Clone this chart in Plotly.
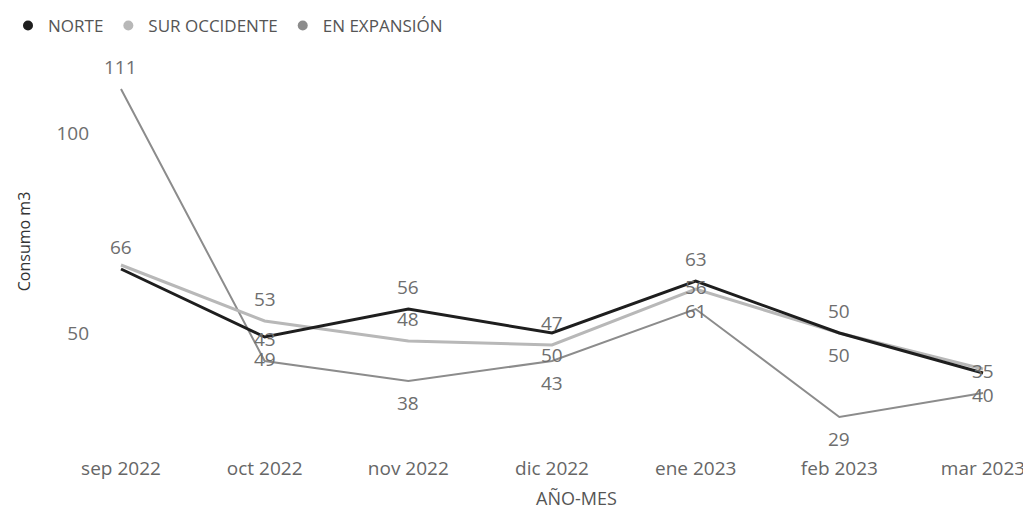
import plotly.graph_objects as go

months = ["sep 2022", "oct 2022", "nov 2022", "dic 2022", "ene 2023", "feb 2023", "mar 2023"]

norte = [66, 49, 56, 50, 63, 50, 40]
sur_occidente = [67, 53, 48, 47, 61, 50, 41]
en_expansion = [111, 43, 38, 43, 56, 29, 35]

norte_labels = ["66", "49", "56", "50", "63", "50", "40"]
sur_labels = ["", "53", "48", "47", "61", "50", ""]
exp_labels = ["111", "43", "38", "43", "56", "29", "35"]

# +1 = label above the point, -1 = label below
norte_side = [1, -1, 1, -1, 1, -1, -1]
sur_side = [1, 1, 1, 1, -1, 1, 1]
exp_side = [1, 1, -1, -1, 1, -1, 1]

series = [
    ("NORTE", norte, norte_labels, norte_side, "#1e1e1e", 3),
    ("SUR OCCIDENTE", sur_occidente, sur_labels, sur_side, "#b8b8b8", 3),
    ("EN EXPANSIÓN", en_expansion, exp_labels, exp_side, "#8c8c8c", 2),
]

FONT = "Open Sans"
fig = go.Figure()

for name, vals, labels, side, color, width in [series[2], series[1], series[0]]:
    fig.add_trace(go.Scatter(
        x=months, y=vals, mode="lines", name=name,
        line=dict(color=color, width=width),
        showlegend=False, cliponaxis=False,
    ))

for name, vals, labels, side, color, width in series:
    fig.add_trace(go.Scatter(
        x=[None], y=[None], mode="markers", name=name,
        marker=dict(color=color, size=10, symbol="circle"),
        showlegend=True,
    ))

annotations = []
for name, vals, labels, side, color, width in series:
    for m, v, t, s in zip(months, vals, labels, side):
        if not t:
            continue
        annotations.append(dict(
            x=m, y=v, xref="x", yref="y", text=t, showarrow=False,
            yshift=22 * s, font=dict(family=FONT, size=19, color="#6e6e6e"),
        ))

annotations.append(dict(
    text="Consumo m3", textangle=-90, showarrow=False,
    xref="paper", yref="paper", x=-0.08, y=0.54, xanchor="center", yanchor="middle",
    font=dict(family=FONT, size=16, color="#333333"),
))
annotations.append(dict(
    text="AÑO-MES", showarrow=False,
    xref="paper", yref="paper", x=0.5135, y=-0.11, xanchor="center", yanchor="middle",
    font=dict(family=FONT, size=18, color="#555555"),
))

fig.update_layout(
    width=1031, height=516,
    margin=dict(l=90, r=10, t=52, b=69, autoexpand=False),
    paper_bgcolor="white", plot_bgcolor="white",
    font=dict(family=FONT, color="#666666"),
    annotations=annotations,
    legend=dict(
        orientation="h", x=0, y=1.0, xref="container", yref="container",
        xanchor="left", yanchor="top",
        font=dict(family=FONT, size=17, color="#555555"),
        itemwidth=30, traceorder="normal",
        bgcolor="rgba(0,0,0,0)",
    ),
    xaxis=dict(
        type="category", range=[-0.16, 6.32], automargin=False,
        showgrid=False, zeroline=False, showline=False, ticks="",
        tickfont=dict(family=FONT, size=19, color="#666666"),
    ),
    yaxis=dict(
        range=[19.5, 118.25], tickvals=[50, 100], automargin=False,
        showgrid=False, zeroline=False, showline=False, ticks="",
        ticklabelstandoff=8,
        tickfont=dict(family=FONT, size=19, color="#6e6e6e"),
    ),
)

fig.write_html("out.html")
